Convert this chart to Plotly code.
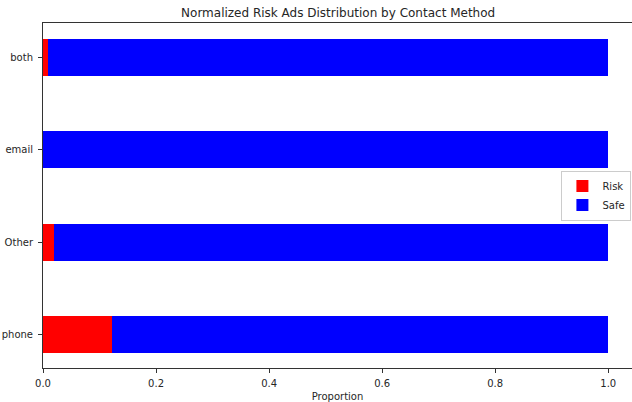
import plotly.graph_objects as go

# Share of risky vs safe ads for each contact method (each row sums to 1)
methods = ["phone", "Other", "email", "both"]
risk = [0.122, 0.0195, 0.0, 0.0088]
safe = [1 - r for r in risk]
x_ticks = [0.0, 0.2, 0.4, 0.6, 0.8, 1.0]
x_tick_text = ["0.0", "0.2", "0.4", "0.6", "0.8", "1.0"]

font = "DejaVu Sans, sans-serif"

fig = go.Figure()
fig.add_trace(go.Bar(y=methods, x=risk, name="Risk", orientation="h",
                     marker=dict(color="#ff0000", line=dict(width=0)), width=0.4))
fig.add_trace(go.Bar(y=methods, x=safe, name="Safe", orientation="h",
                     marker=dict(color="#0000ff", line=dict(width=0)), width=0.4))

fig.update_layout(
    barmode="stack",
    width=632, height=402,
    margin=dict(l=43, r=0, t=23, b=34, autoexpand=False),
    plot_bgcolor="white", paper_bgcolor="white",
    font=dict(family=font, size=10, color="#262626"),
    title=dict(text="Normalized Risk Ads Distribution by Contact Method",
               x=0.535, xanchor="center", y=0.967, yanchor="middle",
               font=dict(size=12, family=font, color="#262626")),
    legend=dict(x=0.999, xanchor="right", y=0.5, yanchor="middle",
                traceorder="normal",
                bordercolor="#cccccc", borderwidth=1, bgcolor="white",
                font=dict(size=10, family=font), itemwidth=30,
                tracegroupgap=0),
    showlegend=True,
)
fig.update_xaxes(range=[0, 1.042], tickvals=x_ticks, ticktext=x_tick_text,
                 showgrid=False, zeroline=False, showline=True, mirror=True,
                 linecolor="#333333", linewidth=1, ticks="outside", ticklen=4,
                 tickcolor="#333333", ticklabelstandoff=2,
                 title=dict(text="Proportion", font=dict(size=10, family=font), standoff=6))
fig.update_yaxes(range=[-0.36, 3.37], showgrid=False, zeroline=False,
                 showline=True, linecolor="#333333", linewidth=1,
                 ticks="outside", ticklen=4, tickcolor="#333333",
                 ticklabelstandoff=3)

fig.write_html("out.html")
